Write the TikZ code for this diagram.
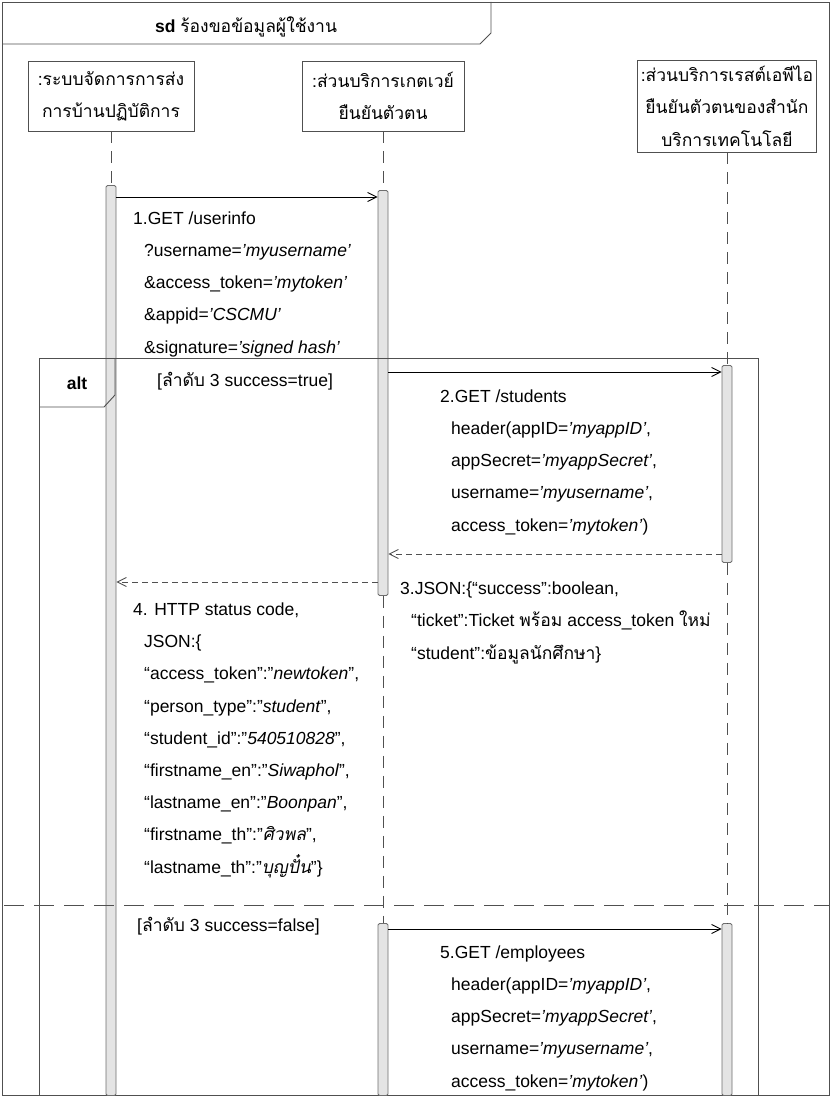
\documentclass[tikz,border=0pt]{standalone}
\usepackage{fontspec}
\setmainfont{Liberation Sans}
\newfontfamily\thaifont[Script=Thai]{Loma}
\newfontfamily\thaislant[Script=Thai,FakeSlant=0.2]{Loma}
\usetikzlibrary{arrows.meta}

\newcommand{\thai}[1]{{\thaifont #1}}
\newcommand{\thaiit}[1]{{\thaislant #1}}
\newcommand{\ind}{\hspace*{11pt}}

\definecolor{linegray}{HTML}{505050}
\definecolor{barfill}{HTML}{E4E4E4}
\definecolor{bardraw}{HTML}{6E6E6E}

\begin{document}
\begin{tikzpicture}[x=1pt, y=-1pt, >={Straight Barb[length=9pt,width=9pt]},
  every node/.style={font=\fontsize{17.5}{32.2}\selectfont, inner sep=0pt},
  head/.style={draw=linegray, line width=0.9pt, align=center},
  actbar/.style={draw=bardraw, fill=barfill, line width=0.9pt, rounded corners=1.5pt, minimum width=10pt, anchor=north},
  lifeline/.style={draw=linegray, line width=0.8pt, dash pattern=on 12pt off 8pt},
  call/.style={->, line width=0.9pt},
  reply/.style={->, draw=linegray, line width=0.9pt, dash pattern=on 6pt off 4pt},
  msg/.style={anchor=base west, align=left},
  frame/.style={draw=linegray, line width=0.9pt}]

  \useasboundingbox (0,0) rectangle (831,1097);

  % Frame
  \draw[frame] (2,2) rectangle (829,1095);
  \draw[frame] (2,44) -- (480,44) -- (491,33) -- (491,2);
  \node[anchor=base] (title) at (246,33) {\textbf{sd} \thai{ร้องขอข้อมูลผู้ใช้งาน}};

  % Lifeline heads
  \node[head, minimum width=166pt, minimum height=70pt] (sys) at (111,96)
    {\thai{:ระบบจัดการการส่ง}\\\thai{การบ้านปฏิบัติการ}};
  \node[head, minimum width=162pt, minimum height=70pt] (gw) at (383,96)
    {\thai{:ส่วนบริการเกตเวย์}\\\thai{ยืนยันตัวตน}};
  \node[head, minimum width=179pt, minimum height=92pt] (api) at (727,106)
    {\thai{:ส่วนบริการเรสต์เอพีไอ}\\\thai{ยืนยันตัวตนของสำนัก}\\\thai{บริการเทคโนโลยี}};

  % Activations
  \node[actbar, minimum height=910pt] (act1) at (111,185) {};
  \node[actbar, minimum height=405pt] (act2) at (383,190) {};
  \node[actbar, minimum height=197pt] (act3) at (727,365) {};
  \node[actbar, minimum height=172pt] (act2b) at (383,923) {};
  \node[actbar, minimum height=172pt] (act3b) at (727,923) {};

  % Lifelines
  \draw[lifeline] (sys) -- (act1);
  \draw[lifeline] (gw) -- (act2);
  \draw[lifeline] (act2) -- (act2b);
  \draw[lifeline] (api) -- (act3);
  \draw[lifeline] (act3) -- (act3b);

  % Message rows
  \coordinate (m1) at (0,197);
  \coordinate (m2) at (0,372);
  \coordinate (r2) at (0,554);
  \coordinate (r1) at (0,582);
  \coordinate (m5) at (0,929);

  % Messages
  \draw[call] (act1.east |- m1) -- (act2.west |- m1);
  \draw[call] (act2.east |- m2) -- (act3.west |- m2);
  \draw[reply] (act3.west |- r2) -- (act2.east |- r2);
  \draw[reply] (act2.west |- r1) -- (act1.east |- r1);
  \draw[call] (act2b.east |- m5) -- (act3b.west |- m5);

  % Labels (base = last line)
  \node[msg] (l1) at (133,353) {1.GET /userinfo\\
    \ind ?username=\textit{'myusername'}\\
    \ind \&access\_token=\textit{'mytoken'}\\
    \ind \&appid=\textit{'CSCMU'}\\
    \ind \&signature=\textit{'signed hash'}};
  \node[msg] (l2) at (440,531) {2.GET /students\\
    \ind header(appID=\textit{'myappID'},\\
    \ind appSecret=\textit{'myappSecret'},\\
    \ind username=\textit{'myusername'},\\
    \ind access\_token=\textit{'mytoken'})};
  \node[msg] (l3) at (400,659) {3.JSON:\{“success”:boolean,\\
    \ind “ticket”:Ticket \thai{พร้อม} access\_token \thai{ใหม่}\\
    \ind “student”:\thai{ข้อมูลนักศึกษา}\}};
  \node[msg] (l4) at (133,873) {4. HTTP status code,\\
    \ind JSON:\{\\
    \ind “access\_token”:”\textit{newtoken}”,\\
    \ind “person\_type”:”\textit{student}”,\\
    \ind “student\_id”:”\textit{540510828}”,\\
    \ind “firstname\_en”:”\textit{Siwaphol}”,\\
    \ind “lastname\_en”:”\textit{Boonpan}”,\\
    \ind “firstname\_th”:”\thaiit{ศิวพล}”,\\
    \ind “lastname\_th”:”\thaiit{บุญปั๋น}”\}};
  \node[msg] (l5) at (440,1087) {5.GET /employees\\
    \ind header(appID=\textit{'myappID'},\\
    \ind appSecret=\textit{'myappSecret'},\\
    \ind username=\textit{'myusername'},\\
    \ind access\_token=\textit{'mytoken'})};

  % Fragment
  \draw[frame] (39,1095) -- (39,358) -- (758,358) -- (758,1095);
  \draw[frame] (39,407) -- (104,407) -- (115,395) -- (115,358);
  \node (alt) at (77,383) {\textbf{alt}};
  \node[msg] (g1) at (157,386) {[\thai{ลำดับ} 3 success=true]};
  \draw[frame, dash pattern=on 20pt off 10pt] (4,905) -- (829,905);
  \node[msg] (g2) at (137,931) {[\thai{ลำดับ} 3 success=false]};

\end{tikzpicture}
\end{document}
